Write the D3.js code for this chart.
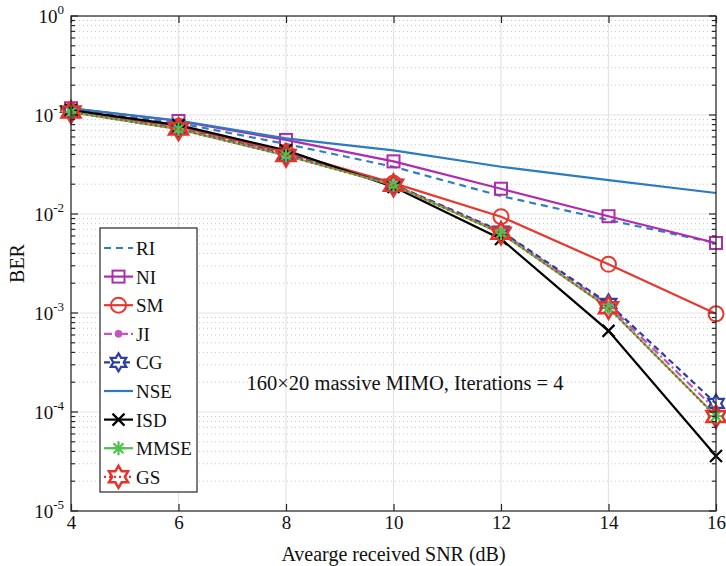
<!DOCTYPE html>
<html>
<head>
<meta charset="utf-8">
<script src="https://cdn.jsdelivr.net/npm/d3@7/dist/d3.min.js"></script>
<style>
  html, body { margin: 0; padding: 0; background: #fff; }
  svg { display: block; font-family: "Liberation Serif", "Times New Roman", serif; }
</style>
</head>
<body>
<svg id="chart" width="726" height="566"></svg>
<script>
// SNR points (dB)
const snr = [4, 6, 8, 10, 12, 14, 16];

// BER per detector
const RI   = [0.113, 0.083, 0.051, 0.030, 0.0152, 0.0087, 0.0051];
const NI   = [0.117, 0.087, 0.056, 0.034, 0.0180, 0.0095, 0.0051];
const SM   = [0.110, 0.077, 0.042, 0.0205, 0.0094, 0.0031, 0.00098];
const JI   = [0.108, 0.073, 0.040, 0.0198, 0.0066, 0.00120, 0.000105];
const CG   = [0.108, 0.073, 0.040, 0.0199, 0.0067, 0.00125, 0.000122];
const NSE  = [0.117, 0.088, 0.058, 0.044, 0.030, 0.022, 0.0163];
const ISD  = [0.112, 0.079, 0.044, 0.0188, 0.0056, 0.00066, 0.000036];
const MMSE = [0.107, 0.072, 0.039, 0.0195, 0.0064, 0.00113, 0.000091];
const GS   = [0.107, 0.072, 0.039, 0.0195, 0.0064, 0.00113, 0.000090];

const xTicks = [4, 6, 8, 10, 12, 14, 16];
const yExponents = [0, -1, -2, -3, -4, -5];

const series = [
  { name: "RI",   values: RI,   color: "#2f7dc3", dash: "7,5",   marker: "none" },
  { name: "NI",   values: NI,   color: "#b02bad", dash: null,    marker: "square" },
  { name: "SM",   values: SM,   color: "#e8382d", dash: null,    marker: "circle" },
  { name: "JI",   values: JI,   color: "#c453c4", dash: "8,3,2,3", marker: "dot" },
  { name: "CG",   values: CG,   color: "#2e3ea0", dash: "6,4",   marker: "hexSmall" },
  { name: "NSE",  values: NSE,  color: "#2a7bc0", dash: null,    marker: "none" },
  { name: "ISD",  values: ISD,  color: "#000000", dash: null,    marker: "cross" },
  { name: "MMSE", values: MMSE, color: "#4dc24d", dash: null,    marker: "asterisk" },
  { name: "GS",   values: GS,   color: "#e5332a", dash: "2,3",   marker: "hexLarge" }
];

const svg = d3.select("#chart");
const pLeft = 71, pRight = 716, pTop = 16, pBottom = 511;

const x = d3.scaleLinear().domain([4, 16]).range([pLeft, pRight]);
const y = d3.scaleLog().domain([1e-5, 1]).range([pBottom, pTop]);

// grid: minor (dotted) then major (solid)
const grid = svg.append("g");
const minorVals = [];
for (let e = -5; e < 0; e++) for (let m = 2; m <= 9; m++) minorVals.push(m * Math.pow(10, e));
grid.selectAll("line.minor").data(minorVals).enter().append("line")
  .attr("x1", pLeft).attr("x2", pRight)
  .attr("y1", d => y(d)).attr("y2", d => y(d))
  .attr("stroke", "#c8c8c8").attr("stroke-width", 1).attr("stroke-dasharray", "1,3");
grid.selectAll("line.majy").data(yExponents.map(e => Math.pow(10, e))).enter().append("line")
  .attr("x1", pLeft).attr("x2", pRight)
  .attr("y1", d => y(d)).attr("y2", d => y(d))
  .attr("stroke", "#e3e3e3").attr("stroke-width", 1.2);
grid.selectAll("line.majx").data(xTicks).enter().append("line")
  .attr("x1", d => x(d)).attr("x2", d => x(d))
  .attr("y1", pTop).attr("y2", pBottom)
  .attr("stroke", "#e3e3e3").attr("stroke-width", 1.2);

// marker shapes
function hexagramPath(R) {
  const r = R / Math.sqrt(3);
  const pts = [];
  for (let i = 0; i < 12; i++) {
    const a = -Math.PI / 2 + i * Math.PI / 6;
    const rr = i % 2 === 0 ? R : r;
    pts.push([rr * Math.cos(a), rr * Math.sin(a)]);
  }
  return "M" + pts.map(p => p[0].toFixed(2) + "," + p[1].toFixed(2)).join("L") + "Z";
}

function drawMarker(g, type, color) {
  switch (type) {
    case "square":
      g.append("rect").attr("x", -6).attr("y", -6).attr("width", 12).attr("height", 12)
        .attr("fill", "none").attr("stroke", color).attr("stroke-width", 2);
      break;
    case "circle":
      g.append("circle").attr("r", 7.5).attr("fill", "none").attr("stroke", color).attr("stroke-width", 2);
      break;
    case "dot":
      g.append("circle").attr("r", 3.5).attr("fill", color).attr("stroke", color).attr("stroke-width", 1);
      break;
    case "hexSmall":
      g.append("path").attr("d", hexagramPath(9)).attr("fill", "none").attr("stroke", color).attr("stroke-width", 2.2);
      break;
    case "hexLarge":
      g.append("path").attr("d", hexagramPath(11)).attr("fill", "none").attr("stroke", color).attr("stroke-width", 2.5);
      break;
    case "cross":
      g.append("path").attr("d", "M-6,-6L6,6M-6,6L6,-6").attr("stroke", color).attr("stroke-width", 2.2);
      break;
    case "asterisk":
      g.append("path").attr("d", "M0,-7L0,7M-7,0L7,0M-5,-5L5,5M-5,5L5,-5").attr("stroke", color).attr("stroke-width", 2.2);
      break;
  }
}

// curves
const plot = svg.append("g");
const line = d3.line().x((d, i) => x(snr[i])).y(d => y(d));
series.forEach(s => {
  const g = plot.append("g");
  g.append("path").attr("d", line(s.values))
    .attr("fill", "none").attr("stroke", s.color).attr("stroke-width", 2.2)
    .attr("stroke-dasharray", s.dash);
  s.values.forEach((v, i) => {
    const mg = g.append("g").attr("transform", `translate(${x(snr[i])},${y(v)})`);
    drawMarker(mg, s.marker, s.color);
  });
});

// axes frame
const axisColor = "#262626";
svg.append("rect").attr("x", pLeft).attr("y", pTop).attr("width", pRight - pLeft).attr("height", pBottom - pTop)
  .attr("fill", "none").attr("stroke", axisColor).attr("stroke-width", 1.2);

// x ticks (inward, top and bottom)
const xb = svg.append("g").attr("transform", `translate(0,${pBottom})`)
  .call(d3.axisBottom(x).tickValues(xTicks).tickSize(-7).tickFormat(d3.format("d")));
const xt = svg.append("g").attr("transform", `translate(0,${pTop})`)
  .call(d3.axisTop(x).tickValues(xTicks).tickSize(-7).tickFormat(""));
[xb, xt].forEach(a => {
  a.select(".domain").remove();
  a.selectAll(".tick line").attr("stroke", axisColor).attr("stroke-width", 1.2);
});
xb.selectAll(".tick text").attr("dy", "0.71em").attr("y", 5)
  .attr("font-family", "Liberation Serif").attr("font-size", 19).attr("fill", "#111");

// y ticks: major + minor on both sides
function yTicks(side) {
  const g = svg.append("g");
  const x0 = side === "left" ? pLeft : pRight;
  const dir = side === "left" ? 1 : -1;
  g.selectAll("line.maj").data(yExponents).enter().append("line")
    .attr("x1", x0).attr("x2", x0 + dir * 7)
    .attr("y1", e => y(Math.pow(10, e))).attr("y2", e => y(Math.pow(10, e)))
    .attr("stroke", axisColor).attr("stroke-width", 1.2);
  g.selectAll("line.min").data(minorVals).enter().append("line")
    .attr("x1", x0).attr("x2", x0 + dir * 4)
    .attr("y1", d => y(d)).attr("y2", d => y(d))
    .attr("stroke", axisColor).attr("stroke-width", 1.2);
}
yTicks("left");
yTicks("right");

// y tick labels 10^e
const yl = svg.append("g");
yExponents.forEach(e => {
  const t = yl.append("text")
    .attr("x", 64).attr("y", y(Math.pow(10, e)) + 7)
    .attr("text-anchor", "end")
    .attr("font-family", "Liberation Serif").attr("font-size", 19).attr("fill", "#111");
  t.append("tspan").text("10");
  t.append("tspan").attr("font-size", 13).attr("dy", -9).text(String(e));
});

// axis titles
svg.append("text").attr("x", (pLeft + pRight) / 2).attr("y", 561)
  .attr("text-anchor", "middle").attr("font-size", 20).attr("fill", "#111")
  .text("Avearge received SNR (dB)");
svg.append("text").attr("transform", `translate(24,${(pTop + pBottom) / 2}) rotate(-90)`)
  .attr("text-anchor", "middle").attr("font-size", 20).attr("fill", "#111")
  .text("BER");

// annotation
svg.append("text").attr("x", 405).attr("y", 390)
  .attr("text-anchor", "middle").attr("font-size", 20.5).attr("fill", "#111")
  .text("160\u00d720 massive MIMO, Iterations = 4");

// legend
const lg = svg.append("g");
lg.append("rect").attr("x", 100).attr("y", 228).attr("width", 97).attr("height", 264)
  .attr("fill", "#fff").attr("stroke", axisColor).attr("stroke-width", 1.2);
series.forEach((s, i) => {
  const cy = 248 + i * 28.6;
  const g = lg.append("g");
  g.append("line").attr("x1", 104).attr("x2", 133).attr("y1", cy).attr("y2", cy)
    .attr("stroke", s.color).attr("stroke-width", 2.2).attr("stroke-dasharray", s.dash);
  const mg = g.append("g").attr("transform", `translate(118.5,${cy})`);
  drawMarker(mg, s.marker, s.color);
  g.append("text").attr("x", 136).attr("y", cy + 7)
    .attr("font-size", 19).attr("fill", "#111").text(s.name);
});
</script>
</body>
</html>
